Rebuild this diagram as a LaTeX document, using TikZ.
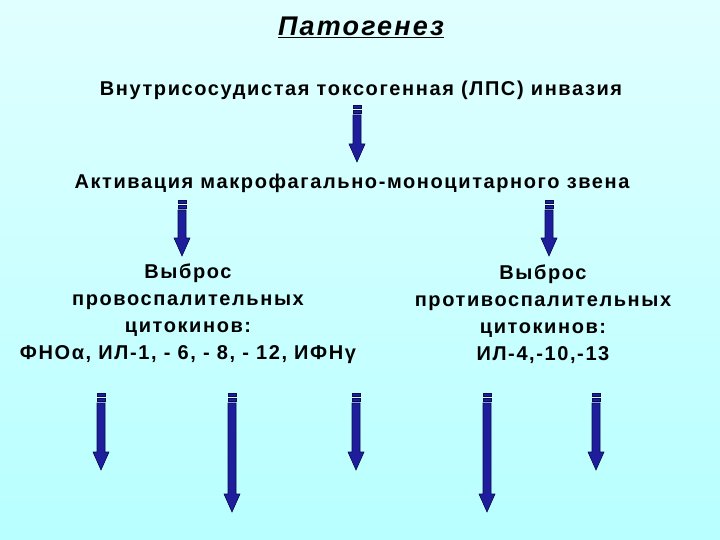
\documentclass[tikz,border=0pt]{standalone}
\usepackage{fontspec}
\setmainfont{Liberation Sans}[LetterSpace=8]
\definecolor{arrfill}{HTML}{1E1E9C}
\definecolor{arrline}{HTML}{0A0A50}
\newcommand\striparrow[3]{% x, ytop, ybot
  \fill[arrfill,draw=arrline,line width=0.6pt] (#1-4,#2) rectangle (#1+4,#2+3);
  \fill[arrfill,draw=arrline,line width=0.6pt] (#1-4,#2+5) rectangle (#1+4,#2+8);
  \fill[arrfill,draw=arrline,line width=0.6pt] (#1-4,#2+10) -- (#1+4,#2+10) -- (#1+4,#3-18) -- (#1+8,#3-18) -- (#1,#3) -- (#1-8,#3-18) -- (#1-4,#3-18) -- cycle;
}
\begin{document}
\begin{tikzpicture}[x=1pt,y=-1pt,txt/.style={font=\bfseries\fontsize{20}{27}\selectfont,align=center,text=black}]
\shade[top color=cyan!12!white,bottom color=cyan!28!white] (0,0) rectangle (720,540);
\useasboundingbox (0,0) rectangle (720,540);
\node[font=\bfseries\itshape\fontsize{27}{30}\selectfont] (title) at (361,27) {\underline{Патогенез}};
\node[txt] (l1) at (361,90) {Внутрисосудистая токсогенная (ЛПС) инвазия};
\node[txt] (l2) at (352,183) {Активация макрофагально-моноцитарного звена};
\node[txt] (lb) at (188,314) {Выброс\\провоспалительных\\цитокинов:\\ФНОα, ИЛ-1, - 6, - 8, - 12, ИФНγ};
\node[txt] (rb) at (543,314) {Выброс\\противоспалительных\\цитокинов:\\ИЛ-4,-10,-13};
\striparrow{357}{105}{162}
\striparrow{182}{200}{256}
\striparrow{549}{200}{256}
\striparrow{101}{393}{470}
\striparrow{232}{393}{512}
\striparrow{356}{393}{470}
\striparrow{487}{393}{512}
\striparrow{596}{393}{470}
\end{tikzpicture}
\end{document}
